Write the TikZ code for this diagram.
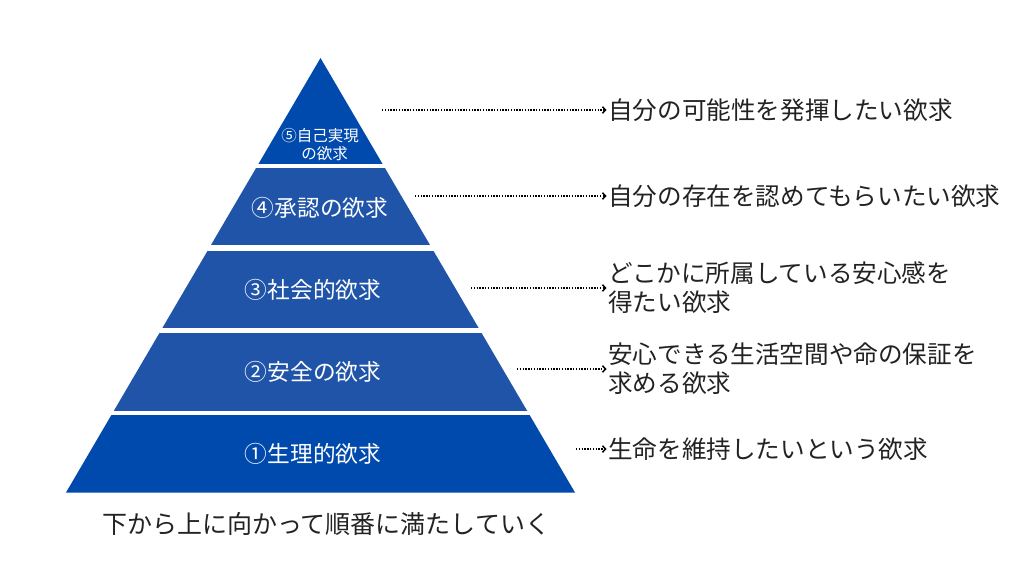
\documentclass[tikz,border=0pt]{standalone}
\usepackage{fontspec}
\setmainfont{Noto Sans CJK JP}
\usetikzlibrary{arrows.meta}
\definecolor{darkblue}{RGB}{0,74,173}
\definecolor{midblue}{RGB}{31,84,168}
\definecolor{textgray}{RGB}{34,34,34}
\newcommand{\layerFont}{\fontsize{22.7}{26}\selectfont}
\newcommand{\topFont}{\fontsize{15.5}{18}\selectfont}
\newcommand{\needFont}{\fontsize{24.6}{29}\selectfont}

\begin{document}
\begin{tikzpicture}[x=1pt,y=-1pt]
  \tikzset{
    layer label/.style={text=white,font=\layerFont,inner sep=0pt},
    need/.style={anchor=west,text=textgray,font=\needFont,align=left,inner sep=0pt},
    pointer/.style={draw=black,line width=1.8pt,dash pattern=on 1.4pt off 1.4pt,
      shorten >=1.5pt,-{Straight Barb[length=3pt,width=6.5pt,line width=1.5pt]}}
  }
  \useasboundingbox (0,0) rectangle (1024,576);
  \coordinate (apex) at (320.5,58);
  \coordinate (base-l) at (66,492.5);
  \coordinate (base-r) at (575,492.5);
  % pyramid, cut into five bands
  \begin{scope}
    \clip (apex) -- (base-l) -- (base-r) -- cycle;
    \fill[darkblue] (0,50) rectangle (1024,163.5);
    \fill[midblue] (0,167.5) rectangle (1024,245);
    \fill[midblue] (0,250.5) rectangle (1024,327.5);
    \fill[midblue] (0,333) rectangle (1024,410.5);
    \fill[darkblue] (0,415) rectangle (1024,500);
  \end{scope}
  \node[layer label,font=\topFont,align=center] (self) at (320,145)
    {⑤自己実現\\\hspace{0.6em}の欲求};
  \node[layer label] (esteem) at (320,208) {④承認の欲求};
  \node[layer label] (social) at (313,290) {③社会的欲求};
  \node[layer label] (safety) at (313,372) {②安全の欲求};
  \node[layer label] (body) at (313,454) {①生理的欲求};
  % what each need means
  \node[need] (self-t) at (608,110) {自分の可能性を発揮したい欲求};
  \node[need] (esteem-t) at (608,196) {自分の存在を認めてもらいたい欲求};
  \node[need] (social-t) at (608,288) {どこかに所属している安心感を\\得たい欲求};
  \node[need] (safety-t) at (608,369) {安心できる生活空間や命の保証を\\求める欲求};
  \node[need] (body-t) at (608,449) {生命を維持したいという欲求};
  \coordinate (self-s) at (382,110);
  \coordinate (esteem-s) at (415,196);
  \coordinate (social-s) at (471,288);
  \coordinate (safety-s) at (517,369);
  \coordinate (body-s) at (576,449);
  \draw[pointer] (self-s) -- (self-t.west);
  \draw[pointer] (esteem-s) -- (esteem-t.west);
  \draw[pointer] (social-s) -- (social-t.west);
  \draw[pointer] (safety-s) -- (safety-t.west);
  \draw[pointer] (body-s) -- (body-t.west);
  \node[text=textgray,font=\fontsize{25}{30}\selectfont,inner sep=0pt] (order) at (326,524)
    {下から上に向かって順番に満たしていく};
\end{tikzpicture}
\end{document}
